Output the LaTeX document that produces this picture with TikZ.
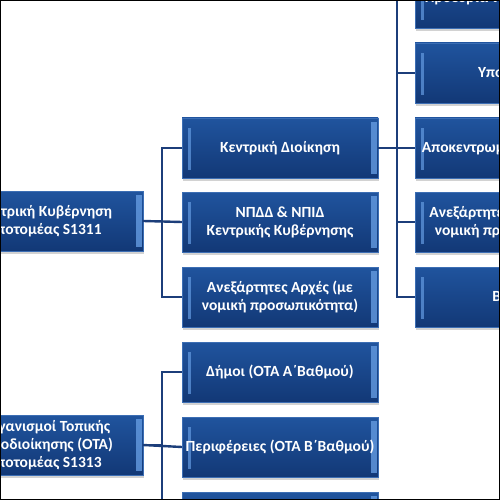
\documentclass[tikz,border=0pt]{standalone}
\usepackage{fontspec}
\setmainfont{Carlito}
\usepackage{xcolor}
\usepackage{tikz}
\usetikzlibrary{shadows}
\definecolor{boxtop}{RGB}{32,84,158}
\definecolor{boxbot}{RGB}{18,56,118}
\definecolor{boxedge}{RGB}{60,110,180}
\definecolor{bevel}{RGB}{100,155,225}
\definecolor{linkcol}{RGB}{28,62,122}
\tikzset{
  block/.style  = {rectangle, draw=boxedge, top color=boxtop, bottom color=boxbot,
                   minimum width=196pt, minimum height=60pt, align=center, text=white,
                   font=\fontsize{15.5}{18}\selectfont\bfseries, inner sep=0pt,
                   drop shadow={shadow xshift=1pt, shadow yshift=-3pt, opacity=0.35},
                   path picture={
                     \fill[bevel, opacity=0.7] ([xshift=6pt,yshift=-10pt]path picture bounding box.north west)
                        rectangle ([xshift=9pt,yshift=8pt]path picture bounding box.south west);
                     \fill[bevel, opacity=0.8] ([xshift=-7pt,yshift=-4pt]path picture bounding box.north east)
                        rectangle ([xshift=-1pt,yshift=4pt]path picture bounding box.south east);
                   }},
  link/.style   = {draw=linkcol, line width=2.4pt},
}
\begin{document}
\begin{tikzpicture}[x=1pt, y=-1pt]
    \useasboundingbox (0,0) rectangle (500,500);
    \clip (0,0) rectangle (500,500);
    \fill[white] (0,0) rectangle (500,500);

    %% Left column
    \node[block] (kyv) at (45, 221) {Κεντρική Κυβέρνηση\\Υποτομέας S1311};
    \node[block] (ota) at (45, 445) {Οργανισμοί Τοπικής\\Αυτοδιοίκησης (ΟΤΑ)\\Υποτομέας S1313};

    %% Middle column
    \node[block] (kd)    at (280, 148) {Κεντρική Διοίκηση};
    \node[block] (npdd)  at (280, 222) {ΝΠΔΔ \& ΝΠΙΔ\\Κεντρικής Κυβέρνησης};
    \node[block] (anex)  at (280, 297) {Ανεξάρτητες Αρχές (με\\νομική προσωπικότητα)};
    \node[block] (dimoi) at (280, 372) {Δήμοι (ΟΤΑ Α΄Βαθμού)};
    \node[block] (perif) at (280, 447) {Περιφέρειες (ΟΤΑ Β΄Βαθμού)};
    \node[block] (next)  at (280, 522) {};

    %% Right column
    \node[block] (pd)    at (513, -2)  {Προεδρία της Δημοκρατίας};
    \node[block] (ypo)   at (513, 73)  {Υπουργεία};
    \node[block] (apok)  at (513, 148) {Αποκεντρωμένες Διοικήσεις};
    \node[block] (anex2) at (513, 222) {Ανεξάρτητες Αρχές (χωρίς\\νομική προσωπικότητα)};
    \node[block] (voul)  at (513, 297) {Βουλή};

    %% Connectors
    \draw[link] (kyv.east) -- ++(19,0) |- (kd.west);
    \draw[link] (kyv.east) -- (npdd.west);
    \draw[link] (kyv.east) -- ++(19,0) |- (anex.west);
    \draw[link] (ota.east) -- ++(19,0) |- (dimoi.west);
    \draw[link] (ota.east) -- (perif.west);
    \draw[link] (ota.east) -- ++(19,0) |- (next.west);
    \draw[link] (kd.east) -- ++(19,0) |- (pd.west);
    \draw[link] (kd.east) -- ++(19,0) |- (ypo.west);
    \draw[link] (kd.east) -- (apok.west);
    \draw[link] (kd.east) -- ++(19,0) |- (anex2.west);
    \draw[link] (kd.east) -- ++(19,0) |- (voul.west);

    %% Frame
    \draw[black, line width=2pt] (0,0) rectangle (500,500);
\end{tikzpicture}
\end{document}
